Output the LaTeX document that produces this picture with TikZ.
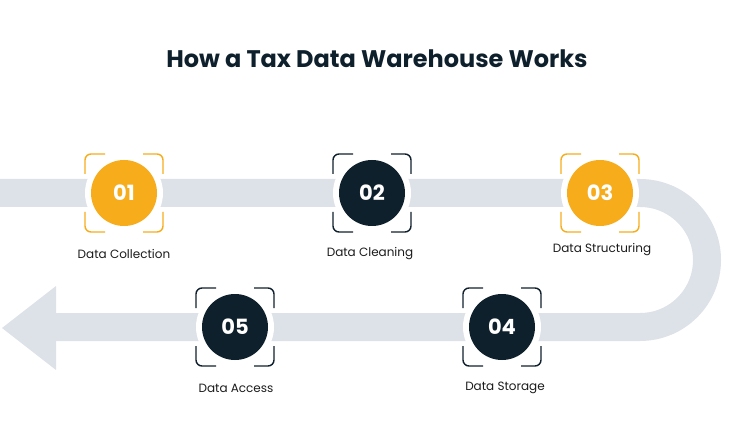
\documentclass[tikz,border=0pt]{standalone}
\usepackage{fontspec}
\setmainfont{Poppins}
\definecolor{gold}{HTML}{F7AC1B}
\definecolor{navy}{HTML}{0F202D}
\definecolor{track}{HTML}{DDE1E8}
\definecolor{ink}{HTML}{1B1B1B}
\tikzset{
  stepdot/.style={circle,minimum size=66pt,inner sep=0pt,text=white,
    font=\fontsize{21}{21}\selectfont\bfseries},
  steplabel/.style={text=ink,font=\fontsize{12}{14}\selectfont},
  corner/.style={line width=1.4pt,rounded corners=6pt},
}
\begin{document}
\begin{tikzpicture}[x=1pt,y=-1pt]
      \useasboundingbox (0,0) rectangle (754,446);
      \node[text=navy,font=\fontsize{24}{26}\selectfont\bfseries] (title) at (377,59)
        {How a Tax Data Warehouse Works};
      % track
      \coordinate (a) at (0,193);
      \coordinate (b) at (640,193);
      \coordinate (c) at (56,327);
      \draw[track,line width=28pt] (a) -- (b) arc[start angle=-90,end angle=90,radius=67] -- (c);
      \fill[track] (56,286) -- (2,328) -- (56,370) -- cycle;
      % steps
      \coordinate (p1) at (124,193);
      \coordinate (p2) at (372,193);
      \coordinate (p3) at (600,193);
      \coordinate (p4) at (502,327);
      \coordinate (p5) at (235,327);
      \foreach \i/\c in {1/gold,2/navy,3/gold,4/navy,5/navy}{
        \fill[white] (p\i) circle (39pt);
        \draw[\c,corner] ([shift={(-39,-19)}]p\i) -- ++(0,-20) -- ++(20,0);
        \draw[\c,corner] ([shift={(39,-19)}]p\i) -- ++(0,-20) -- ++(-20,0);
        \draw[\c,corner] ([shift={(-39,19)}]p\i) -- ++(0,20) -- ++(20,0);
        \draw[\c,corner] ([shift={(39,19)}]p\i) -- ++(0,20) -- ++(-20,0);
      }
      \node[stepdot,fill=gold] (s1) at (p1) {01};
      \node[stepdot,fill=navy] (s2) at (p2) {02};
      \node[stepdot,fill=gold] (s3) at (p3) {03};
      \node[stepdot,fill=navy] (s4) at (p4) {04};
      \node[stepdot,fill=navy] (s5) at (p5) {05};
      \node[steplabel] (l1) at (124,254) {Data Collection};
      \node[steplabel] (l2) at (370,254) {Data Cleaning};
      \node[steplabel] (l3) at (602,250) {Data Structuring};
      \node[steplabel] (l4) at (505,388) {Data Storage};
      \node[steplabel] (l5) at (236,388) {Data Access};
\end{tikzpicture}
\end{document}
